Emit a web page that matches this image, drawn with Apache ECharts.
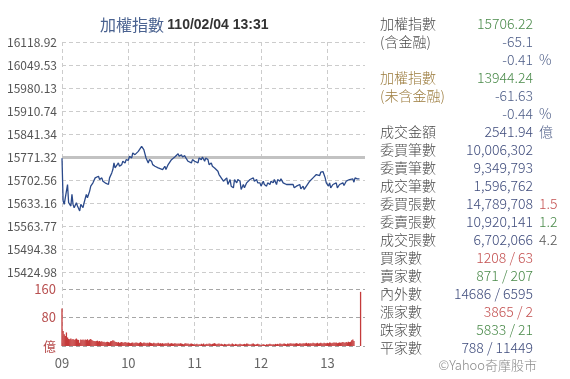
<!DOCTYPE html>
<html><head><meta charset="utf-8">
<script src="https://cdn.jsdelivr.net/npm/echarts@6/dist/echarts.min.js"></script>
<style>html,body{margin:0;padding:0;background:#fff}#c{width:570px;height:379px}</style>
</head><body><div id="c"></div>
<script>
// ---------- data ----------
const titleName = '加權指數';
const titleTime = '110/02/04 13:31';
const hourLabels = ['09', '10', '11', '12', '13'];
const priceTickLabels = ['15424.98', '15494.38', '15563.77', '15633.16', '15702.56', '15771.32',
  '15841.34', '15910.74', '15980.13', '16049.53', '16118.92'];
const priceMin = 15424.98;
const priceMax = 16118.92;
const prevClose = 15771.32;
const volTickLabels = ['億', '80', '160'];

// minutes after 09:00 and index values
const priceMinutes = [0, 1, 2, 4, 5, 6, 8, 9, 10, 11, 13, 14, 16, 17, 19, 20, 22, 23, 25, 26, 28, 30, 31, 33, 34, 36, 37, 39, 40, 42,
  43, 45, 46, 47, 48, 49, 51, 52, 54, 55, 57, 58, 60, 61, 63, 64, 66, 67, 69, 70, 72, 74, 76, 78, 79, 81, 82, 84, 87,
  91, 93, 94, 96, 97, 99, 100, 102, 103, 105, 106, 108, 109, 111, 112, 114, 115, 117, 118, 120, 121, 123, 124, 126, 127,
  129, 130, 132, 133, 135, 136, 138, 139, 141, 142, 144, 146, 147, 149, 150, 152, 153, 155, 156, 158, 159, 161, 162, 164,
  165, 167, 168, 170, 171, 173, 174, 176, 177,
  179, 180, 182, 183, 185, 186, 188, 189, 191, 192, 194, 195, 197, 198, 200, 201, 203, 204, 206, 207, 209, 210, 212, 213,
  215, 216, 218, 219, 221, 222, 224, 225, 227, 228, 230, 231, 233, 234, 236, 237, 238, 239, 240, 241, 242, 243, 245, 246,
  248, 249, 251, 252, 254, 255, 257, 258, 260, 261, 263, 264, 265, 266, 267, 269];
const priceValues = [15768, 15640, 15629, 15669, 15689, 15634, 15624, 15659, 15629, 15619, 15634, 15624, 15609, 15629, 15619,
  15634, 15659, 15649, 15669, 15684, 15694, 15709, 15704, 15714, 15704, 15709, 15699, 15694, 15691, 15689,
  15709, 15724, 15734, 15754, 15739, 15734, 15754, 15744, 15749, 15759, 15754, 15764, 15762, 15774, 15769, 15784, 15779,
  15774, 15789, 15794, 15804, 15794, 15769, 15754, 15764, 15759, 15749, 15744, 15739,
  15734, 15744, 15734, 15749, 15754, 15764, 15769, 15772, 15774, 15782, 15774, 15779, 15772, 15776, 15769, 15759, 15764,
  15754, 15764, 15759, 15764, 15754, 15769, 15764, 15772, 15759, 15769, 15764, 15749, 15754, 15744, 15739, 15734, 15729,
  15719, 15709, 15699, 15694, 15709, 15689, 15704, 15684, 15679, 15704, 15694, 15704, 15699, 15674, 15689, 15679, 15694,
  15689, 15704, 15709, 15709, 15699, 15704, 15694,
  15694, 15684, 15699, 15689, 15684, 15694, 15689, 15699, 15694, 15704, 15689, 15704, 15699, 15706, 15694, 15699, 15689,
  15694, 15689, 15684, 15689, 15679, 15684, 15679, 15689, 15676, 15684, 15674, 15684, 15689, 15699, 15704, 15709, 15714,
  15719, 15722, 15716, 15726, 15728, 15722, 15709, 15694, 15699, 15684, 15694, 15679, 15689, 15684, 15694, 15679, 15689,
  15684, 15694, 15686, 15699, 15694, 15704, 15699, 15706, 15696, 15709, 15704, 15706, 15706];

// volume (億) per minute from 09:00 through 13:24, then the closing auction
const volumeValues = [
  105, 42, 33, 28, 38, 24, 20, 19, 21, 18, 20, 17, 19, 21, 18,
  17, 9, 18, 17, 18, 16, 18, 17, 19, 16, 18, 20, 17, 15, 14,
  13, 14, 15, 13, 14, 12, 13, 11, 12, 10, 11, 12, 11, 10, 13,
  14, 16, 15, 12, 11, 10, 11, 9, 10, 11, 10, 9, 11, 10, 9,
  10, 9, 8, 9, 10, 8, 9, 10, 9, 8, 9, 11, 9, 8, 10,
  9, 8, 9, 8, 10, 9, 8, 7, 9, 8, 7, 8, 9, 7, 8,
  7, 8, 6, 7, 8, 7, 9, 6, 7, 8, 7, 6, 8, 7, 6,
  7, 6, 8, 7, 6, 5, 7, 8, 6, 7, 5, 6, 7, 6, 5,
  4, 5, 6, 4, 5, 4, 6, 5, 7, 4, 5, 6, 5, 7, 6,
  5, 6, 7, 8, 6, 5, 6, 7, 5, 6, 5, 4, 6, 5, 4,
  5, 6, 4, 5, 7, 5, 4, 6, 5, 4, 5, 6, 5, 4, 5,
  6, 5, 7, 6, 5, 4, 5, 6, 7, 5, 4, 5, 6, 5, 4,
  3, 4, 5, 4, 3, 5, 4, 5, 6, 5, 4, 5, 4, 6, 5,
  6, 5, 7, 6, 5, 6, 7, 6, 5, 7, 6, 7, 8, 6, 7,
  6, 7, 8, 7, 6, 8, 7, 6, 8, 7, 8, 9, 7, 8, 7,
  8, 7, 9, 8, 7, 8, 9, 7, 8, 9, 8, 7, 9, 8, 8,
  9, 8, 10, 9, 8, 9, 10, 9, 10, 8, 9, 10, 9, 10, 11,
  10, 9, 11, 10, 12, 11, 12, 16, 18, 14];
const closingMinute = 270;
const closingVolume = 152;

// right-hand quote panel
const panelLabels = ['加權指數', '(含金融)', '', '加權指數', '(未含金融)', '', '成交金額', '委買筆數', '委賣筆數', '成交筆數',
  '委買張數', '委賣張數', '成交張數', '買家數', '賣家數', '內外數', '漲家數', '跌家數', '平家數'];
const panelValues = ['15706.22', '-65.1', '-0.41', '13944.24', '-61.63', '-0.44', '2541.94', '10,006,302', '9,349,793',
  '1,596,762', '14,789,708', '10,920,141', '6,702,066', '1208 / 63', '871 / 207', '14686 / 6595', '3865 / 2',
  '5833 / 21', '788 / 11449'];
const panelExtras = ['', '', '%', '', '', '%', '億', '', '', '', '1.5', '1.2', '4.2', '', '', '', '', '', ''];
const footer = '©Yahoo奇摩股市';

// ---------- styles ----------
const GREEN = '#4a8a4a', RED = '#c45252', NAVY = '#3f4c7c', SLATE = '#4d5d87', DARK = '#4a4a4a', BROWN = '#9b7b3c';
const labelColors = [DARK, DARK, DARK, BROWN, BROWN, DARK, DARK, DARK, DARK, DARK, DARK, DARK, DARK, DARK, DARK, DARK, DARK, DARK, DARK];
const valueColors = [GREEN, SLATE, SLATE, GREEN, SLATE, SLATE, NAVY, NAVY, NAVY, NAVY, NAVY, NAVY, NAVY, RED, GREEN, NAVY, RED, GREEN, NAVY];
const extraColors = [DARK, DARK, SLATE, DARK, DARK, SLATE, SLATE, DARK, DARK, DARK, RED, GREEN, '#555', DARK, DARK, DARK, DARK, DARK, DARK];
const FONT = '"Noto Sans CJK TC", "Noto Sans", sans-serif';

const graphics = [];
graphics.push({
  type: 'text', left: 100, top: 17,
  style: {
    text: '{a|' + titleName + '} {b|' + titleTime + '}',
    rich: {
      a: { fontSize: 16, fontFamily: FONT, fill: '#4a6290', fontWeight: 'normal' },
      b: { fontSize: 14, fontFamily: '"Liberation Sans", Arial, sans-serif', fill: '#333', fontWeight: 'bold' }
    }
  }
});
for (let i = 0; i < panelLabels.length; i++) {
  const y = 23.3 + i * 18.0;
  if (panelLabels[i]) graphics.push({ type: 'text', x: 380, y: y, style: { text: panelLabels[i], fill: labelColors[i], font: '300 14px ' + FONT, textAlign: 'left', textVerticalAlign: 'middle' } });
  if (panelValues[i]) graphics.push({ type: 'text', x: 533, y: y, style: { text: panelValues[i], fill: valueColors[i], font: '300 14px ' + FONT, textAlign: 'right', textVerticalAlign: 'middle' } });
  if (panelExtras[i]) graphics.push({ type: 'text', x: 539, y: y, style: { text: panelExtras[i], fill: extraColors[i], font: '300 14px ' + FONT, textAlign: 'left', textVerticalAlign: 'middle' } });
}
graphics.push({ type: 'text', x: 537, y: 365, style: { text: footer, fill: '#888', font: '300 13px ' + FONT, textAlign: 'right', textVerticalAlign: 'middle' } });

const priceData = priceMinutes.map((m, i) => [m, priceValues[i]]);
const volumeData = volumeValues.map((v, i) => [i, v]);
volumeData.push([closingMinute, closingVolume]);

const L = 62, R = 205;
const dashedLine = () => ({ type: [4, 3], color: '#cccccc', width: 1 });
const chart = echarts.init(document.getElementById('c'), null, { renderer: 'canvas' });
chart.setOption({
  animation: false,
  textStyle: { fontFamily: FONT },
  grid: [
    { left: L, right: R, top: 42, height: 230 },
    { left: L, right: R, top: 289, height: 57 },
    { left: L, right: R, top: 42, bottom: 33 }
  ],
  xAxis: [
    { gridIndex: 0, type: 'value', min: 0, max: 274, show: false },
    { gridIndex: 1, type: 'value', min: 0, max: 274, interval: 60,
      axisLine: { show: false }, axisTick: { show: false }, splitLine: { show: false },
      axisLabel: { color: '#666', fontSize: 13, margin: 11, fontFamily: FONT,
        formatter: v => (v % 60 === 0 && v / 60 < hourLabels.length) ? hourLabels[v / 60] : '' } },
    { gridIndex: 2, type: 'value', min: 0, max: 274, interval: 60,
      axisLine: { show: false }, axisTick: { show: false }, axisLabel: { show: false },
      splitLine: { show: true, showMaxLine: false, lineStyle: dashedLine() } }
  ],
  yAxis: [
    { gridIndex: 0, type: 'value', min: priceMin, max: priceMax, show: false, position: 'right' },
    { gridIndex: 0, type: 'value', min: 0, max: 10, interval: 1, position: 'left', offset: 0,
      axisLine: { show: false }, axisTick: { show: false },
      axisLabel: { color: '#555', fontSize: 12, margin: 5, fontFamily: FONT, formatter: v => priceTickLabels[Math.round(v)] },
      splitLine: { show: true, lineStyle: dashedLine() } },
    { gridIndex: 1, type: 'value', min: 0, max: 160, interval: 80, position: 'left', offset: 0,
      axisLine: { show: false }, axisTick: { show: false },
      axisLabel: { color: '#b85050', fontSize: 13, margin: 6, fontFamily: FONT, formatter: v => volTickLabels[Math.round(v / 80)] },
      splitLine: { show: true, lineStyle: { type: [4, 3], color: '#a6a6a6', width: 1 } } },
    { gridIndex: 2, type: 'value', min: 0, max: 1, show: false }
  ],
  series: [
    { type: 'line', xAxisIndex: 0, yAxisIndex: 0, data: priceData, showSymbol: false, z: 3,
      lineStyle: { color: '#2b4a8b', width: 1.3 },
      markLine: { symbol: 'none', silent: true, label: { show: false }, z: 2,
        lineStyle: { color: '#c2c2c2', width: 3, type: 'solid' }, data: [{ yAxis: prevClose }] } },
    { type: 'bar', xAxisIndex: 1, yAxisIndex: 2, data: volumeData, barWidth: 1.3, z: 3,
      itemStyle: { color: '#c43a3a' } }
  ],
  graphic: graphics
});
</script>
</body></html>
